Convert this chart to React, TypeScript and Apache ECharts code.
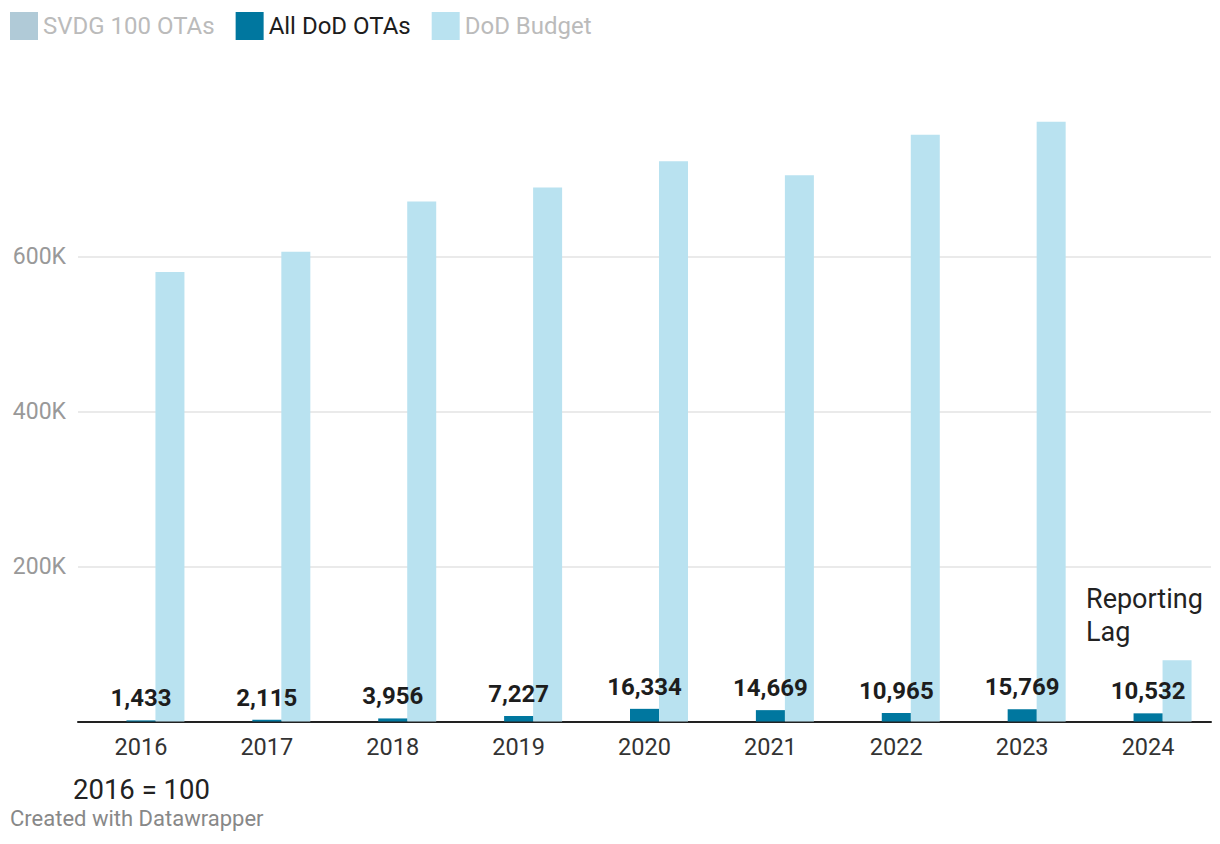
import React, { useEffect, useRef } from "react";
import * as echarts from "echarts";

const years = ["2016", "2017", "2018", "2019", "2020", "2021", "2022", "2023", "2024"];
const svdgOTAs: (number | null)[] = [null, null, null, null, null, null, null, null, null];
const allDodOTAs = [1433, 2115, 3956, 7227, 16334, 14669, 10965, 15769, 10532];
const dodBudget = [580000, 606000, 671000, 689000, 723000, 705000, 757000, 774000, 79000];
const seriesNames = ["SVDG 100 OTAs", "All DoD OTAs", "DoD Budget"];
const annotationLines = ["Reporting", "Lag"];
const noteText = "2016 = 100";
const creditText = "Created with Datawrapper";

const FONT = "Roboto, 'Noto Sans', sans-serif";

export default function App() {
  const ref = useRef<HTMLDivElement>(null);
  useEffect(() => {
    if (!ref.current) return;
    const chart = echarts.init(ref.current, undefined, { renderer: "svg" });
    chart.setOption({
      animation: false,
      backgroundColor: "#ffffff",
      textStyle: { fontFamily: FONT },
      legend: {
        left: 10,
        top: 12,
        padding: 0,
        itemWidth: 28,
        itemHeight: 28,
        itemGap: 21,
        icon: "rect",
        selectedMode: false,
        textStyle: { fontSize: 24, fontFamily: FONT, color: "#1d1d1d" },
        data: [
          { name: seriesNames[0], textStyle: { color: "#bbbbbb" } },
          { name: seriesNames[1], textStyle: { color: "#1d1d1d" } },
          { name: seriesNames[2], textStyle: { color: "#bbbbbb" } },
        ],
      },
      grid: { left: 78, right: 9, top: 101.5, bottom: 122.5, containLabel: false },
      xAxis: {
        type: "category",
        data: years,
        axisLine: { lineStyle: { color: "#222222", width: 2 } },
        axisTick: { show: false },
        axisLabel: { fontSize: 23.5, color: "#333333", margin: 13, fontFamily: FONT },
      },
      yAxis: {
        type: "value",
        min: 0,
        max: 800000,
        interval: 200000,
        axisLine: { show: false },
        axisTick: { show: false },
        axisLabel: {
          fontSize: 23,
          color: "#999999",
          margin: 12,
          fontFamily: FONT,
          showMinLabel: false,
          showMaxLabel: false,
          formatter: (v: number) => (v === 0 ? "" : v / 1000 + "K"),
        },
        splitLine: {
          lineStyle: { color: "#e3e3e3", width: 1.5 },
          showMinLine: false,
          showMaxLine: false,
        },
      },
      series: [
        {
          name: seriesNames[0],
          type: "bar",
          data: svdgOTAs,
          barWidth: 29,
          barGap: "0%",
          itemStyle: { color: "#b0cad7" },
        },
        {
          name: seriesNames[1],
          type: "bar",
          data: allDodOTAs,
          barWidth: 29,
          barGap: "0%",
          itemStyle: { color: "#00779f" },
          label: {
            show: true,
            position: "top",
            distance: 10,
            fontSize: 24,
            fontWeight: "bold",
            color: "#1d1d1d",
            fontFamily: FONT,
            formatter: (p: any) => Number(p.value).toLocaleString("en-US"),
          },
          z: 3,
        },
        {
          name: seriesNames[2],
          type: "bar",
          data: dodBudget,
          barWidth: 29,
          barGap: "0%",
          itemStyle: { color: "#b9e2f0" },
          z: 2,
        },
      ],
      graphic: [
        {
          type: "text",
          x: 1086,
          y: 599,
          style: { text: annotationLines[0], fontSize: 27, fill: "#222222", fontFamily: FONT, verticalAlign: "middle" },
        },
        {
          type: "text",
          x: 1086,
          y: 632,
          style: { text: annotationLines[1], fontSize: 27, fill: "#222222", fontFamily: FONT, verticalAlign: "middle" },
        },
        {
          type: "text",
          x: 73,
          y: 789,
          style: { text: noteText, fontSize: 27.5, fill: "#222222", fontFamily: FONT, verticalAlign: "middle" },
        },
        {
          type: "text",
          x: 10,
          y: 818,
          style: { text: creditText, fontSize: 22, fill: "#888888", fontFamily: FONT, verticalAlign: "middle" },
        },
      ],
    });
    return () => chart.dispose();
  }, []);
  return (
    <div
      ref={ref}
      style={{ position: "absolute", left: 0, top: 0, width: 1220, height: 844 }}
    />
  );
}
